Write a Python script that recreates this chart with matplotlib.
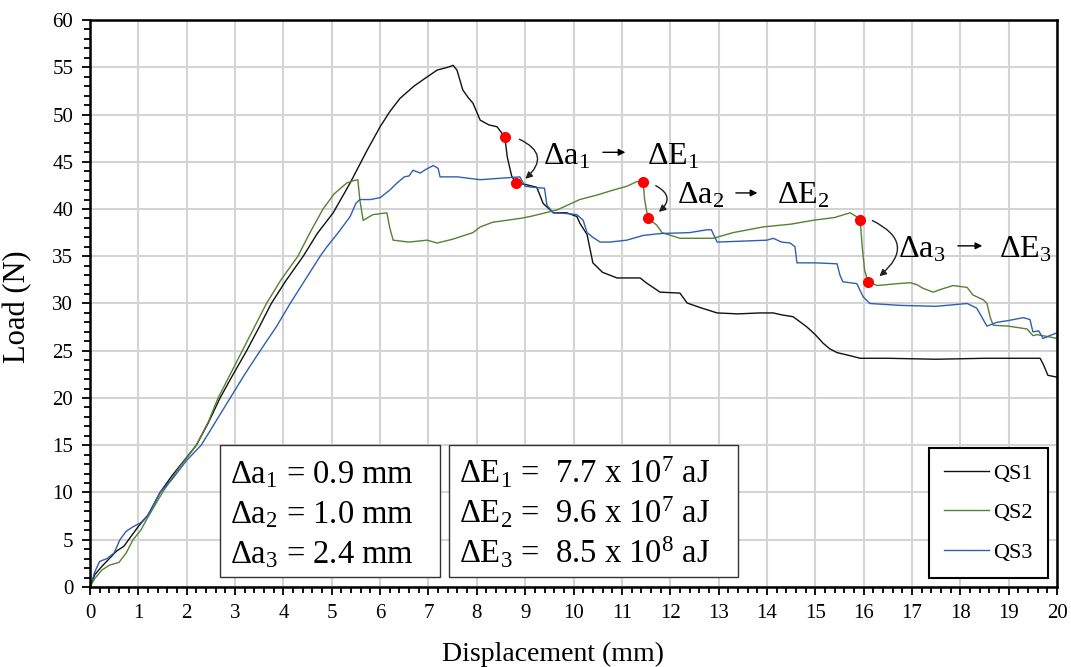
import matplotlib
matplotlib.use("Agg")
import matplotlib.pyplot as plt
from matplotlib.patches import Rectangle
from matplotlib.ticker import MultipleLocator

plt.rcParams['font.family'] = ['Liberation Serif', 'DejaVu Serif']
plt.rcParams['mathtext.fontset'] = 'custom'
plt.rcParams['mathtext.rm'] = 'Liberation Serif'
plt.rcParams['mathtext.default'] = 'regular'

# load-displacement curves
qs1_x = [0, 0.1, 0.25, 0.4, 0.55, 0.7, 0.8, 1.0, 1.2, 1.45, 1.7, 1.95, 2.2, 2.45, 2.69, 2.95,
         3.24, 3.5, 3.75, 4.05, 4.41, 4.7, 5.03, 5.38, 5.73, 6.0, 6.2, 6.41, 6.7, 6.95, 7.18,
         7.4, 7.51, 7.59, 7.71, 7.82, 7.92, 8.07, 8.25, 8.42, 8.58, 8.63, 8.72, 8.81, 9.0,
         9.24, 9.37, 9.58, 9.86, 10.07, 10.13, 10.28, 10.4, 10.6, 10.9, 11.38, 11.5, 11.79,
         12.2, 12.35, 12.6, 12.97, 13.4, 13.86, 14.13, 14.3, 14.54, 14.7, 14.83, 15.0, 15.16,
         15.3, 15.45, 15.7, 15.93, 16.5, 17.5, 18.5, 19.3, 19.65, 19.72, 19.81, 20.0]
qs1_y = [0, 1.3, 2.2, 3.0, 3.8, 4.3, 5.0, 6.4, 7.6, 10.0, 11.8, 13.4, 15.0, 17.4, 20.0, 22.4,
         25.0, 27.5, 30.0, 32.4, 35.0, 37.4, 39.6, 42.75, 46.2, 48.7, 50.3, 51.7, 53.0, 53.9, 54.7,
         55.0, 55.2, 54.7, 52.6, 51.8, 51.2, 49.4, 48.9, 48.7, 47.6, 45.5, 43.5, 42.75, 42.6,
         42.3, 40.6, 39.6, 39.6, 39.2, 38.5, 37.3, 34.3, 33.3, 32.7, 32.7, 32.2, 31.2,
         31.1, 30.05, 29.6, 29.0, 28.9, 29.0, 29.0, 28.8, 28.6, 28.0, 27.5, 26.7, 25.8,
         25.2, 24.8, 24.5, 24.2, 24.2, 24.1, 24.2, 24.2, 24.2, 23.5, 22.4, 22.2]

qs2_x = [0, 0.1, 0.25, 0.4, 0.6, 0.75, 0.89, 1.05, 1.2, 1.5, 1.8, 2.2, 2.45, 2.65, 2.9, 3.15,
         3.4, 3.65, 3.95, 4.3, 4.55, 4.82, 5.05, 5.31, 5.45, 5.54, 5.58, 5.65, 5.85, 6.14, 6.2,
         6.27, 6.6, 6.97, 7.18, 7.5, 7.92, 8.07, 8.33, 8.89, 9.1, 9.66, 10.13, 10.5, 10.82,
         11.1, 11.31, 11.44, 11.47, 11.54, 11.72, 11.83, 12.2, 12.89, 13.3, 13.92, 14.5, 14.95,
         15.4, 15.72, 15.85, 15.93, 15.97, 16.02, 16.09, 16.28, 16.7, 16.96, 17.1, 17.23, 17.44,
         17.6, 17.85, 18.14, 18.26, 18.47, 18.55, 18.62, 18.68, 19.0, 19.38, 19.5, 19.59, 19.8, 20.0]
qs2_y = [0, 0.9, 1.8, 2.3, 2.6, 3.6, 5.0, 6.0, 7.4, 10.0, 12.3, 15.0, 17.5, 20.0, 22.5, 25.0,
         27.5, 30.0, 32.5, 35.0, 37.5, 40.0, 41.6, 42.75, 43.0, 43.1, 41.0, 38.8, 39.4, 39.6, 38.0,
         36.7, 36.5, 36.7, 36.4, 36.8, 37.5, 38.1, 38.6, 39.0, 39.2, 39.9, 41.0, 41.5, 42.0,
         42.4, 42.9, 42.9, 41.0, 39.0, 38.3, 37.5, 36.9, 36.9, 37.5, 38.1, 38.4, 38.8,
         39.1, 39.6, 39.2, 38.8, 36.0, 33.5, 32.3, 31.9, 32.1, 32.2, 32.0, 31.6, 31.2,
         31.5, 31.9, 31.7, 30.9, 30.4, 30.0, 28.5, 27.7, 27.6, 27.3, 26.6, 26.7, 26.5, 26.3]

qs3_x = [0, 0.1, 0.2, 0.35, 0.5, 0.62, 0.75, 0.9, 1.05, 1.2, 1.45, 1.7, 2.0, 2.3, 2.6, 2.9,
         3.2, 3.52, 3.85, 4.14, 4.45, 4.76, 4.9, 5.15, 5.38, 5.5, 5.58, 5.8, 6.0, 6.2, 6.35,
         6.5, 6.6, 6.68, 6.83, 6.95, 7.1, 7.2, 7.24, 7.6, 8.07, 8.62, 8.89, 9.0, 9.16, 9.4,
         9.45, 9.58, 9.9, 10.07, 10.2, 10.28, 10.4, 10.55, 10.75, 11.1, 11.44, 11.79, 12.4,
         12.76, 12.85, 12.97, 13.5, 14.0, 14.13, 14.3, 14.48, 14.58, 14.62, 15.0, 15.45, 15.51,
         15.57, 15.86, 15.99, 16.13, 16.75, 17.5, 18.14, 18.34, 18.45, 18.55, 18.75, 19.0, 19.3,
         19.44, 19.5, 19.62, 19.71, 19.85, 20.0]
qs3_y = [0, 1.6, 2.7, 3.0, 3.6, 5.0, 5.9, 6.4, 6.8, 7.6, 10.0, 11.4, 13.4, 15.0, 17.5, 20.0,
         22.5, 25.0, 27.5, 30.0, 32.5, 35.0, 36.0, 37.6, 39.2, 40.6, 41.0, 41.0, 41.2, 42.0, 42.75,
         43.4, 43.5, 44.1, 43.8, 44.2, 44.6, 44.3, 43.4, 43.4, 43.1, 43.3, 43.4, 42.4, 42.3, 42.2,
         40.4, 39.6, 39.5, 39.4, 38.8, 37.5, 37.0, 36.5, 36.5, 36.7, 37.2, 37.4, 37.5,
         37.8, 37.8, 36.5, 36.6, 36.7, 36.9, 36.5, 36.4, 36.0, 34.3, 34.3, 34.2, 33.0,
         32.3, 32.1, 30.7, 30.0, 29.8, 29.7, 30.0, 29.5, 28.5, 27.6, 28.0, 28.2, 28.5,
         28.3, 27.0, 27.1, 26.3, 26.6, 26.9]

# crack jump points (before / after)
dot_x = [8.58, 8.81, 11.44, 11.54, 15.93, 16.09]
dot_y = [47.6, 42.75, 42.9, 39.0, 38.8, 32.3]

da_text = ["0.9 mm", "1.0 mm", "2.4 mm"]
de_text = ["7.7 x 10$^7$ aJ", "9.6 x 10$^7$ aJ", "8.5 x 10$^8$ aJ"]

fig = plt.figure(figsize=(10.71, 6.67), dpi=100)
ax = fig.add_axes([0.084, 0.12, 0.903, 0.85])

ax.plot(qs1_x, qs1_y, color='#111111', lw=1.0, label='QS1')
ax.plot(qs2_x, qs2_y, color='#548235', lw=1.0, label='QS2')
ax.plot(qs3_x, qs3_y, color='#2f5fb0', lw=1.0, label='QS3')
ax.plot(dot_x, dot_y, 'o', color='red', ms=7, zorder=5)

ax.set_xlim(0, 20)
ax.set_ylim(0, 60)
ax.xaxis.set_major_locator(MultipleLocator(1))
ax.xaxis.set_minor_locator(MultipleLocator(0.2))
ax.yaxis.set_major_locator(MultipleLocator(5))
ax.yaxis.set_minor_locator(MultipleLocator(1))
ax.grid(True, which='major', color='#d4d4d4', lw=1.5)
ax.set_axisbelow(True)
for s in ax.spines.values():
    s.set_linewidth(1.8)
ax.tick_params(which='both', direction='out', width=1.3, labelsize=15)
ax.tick_params(which='major', length=6, pad=6)
ax.tick_params(which='minor', length=4)
ax.set_xlabel('Displacement (mm)', fontsize=20, va='top')
ax.xaxis.set_label_coords(0.479, -0.097)
ax.set_ylabel('Load (N)', fontsize=22)
ax.yaxis.set_label_coords(-0.06, 0.495)

# curved arrows between the dots
arrows = [((8.83, 47.5), (8.96, 43.0)), ((11.65, 42.6), (11.72, 39.5)), ((16.13, 38.9), (16.28, 32.7))]
for (p0, p1) in arrows:
    ax.annotate('', xy=p1, xytext=p0,
                arrowprops=dict(arrowstyle='-|>', color='#222222', lw=1.0,
                                mutation_scale=10, connectionstyle='arc3,rad=-0.8'))

labels = [(9.37, 44.66, 10.55, 11.13, 46.0, 11.52, '1'),
          (12.14, 40.6, 13.3, 13.86, 41.7, 14.21, '2'),
          (16.71, 34.9, 17.89, 18.51, 36.1, 18.8, '3')]
for xa, yb, xs, xe, ya, xe2, n in labels:
    ax.text(xa, yb, r'$\Delta a_%s$' % n, fontsize=23, va='baseline')
    ax.annotate('', xy=(xe, ya), xytext=(xs, ya),
                arrowprops=dict(arrowstyle='-|>', color='black', lw=1.0, mutation_scale=10))
    ax.text(xe2, yb, r'$\Delta E_%s$' % n, fontsize=23, va='baseline')

# value boxes
ax.add_patch(Rectangle((2.69, 1.06), 4.55, 13.97, fill=True, fc='white', ec='#333333', lw=1.0, zorder=4))
ax.add_patch(Rectangle((7.42, 1.06), 5.98, 13.97, fill=True, fc='white', ec='#333333', lw=1.0, zorder=4))
rows_y = [11.0, 6.77, 2.54]
for i in range(3):
    ax.text(2.9, rows_y[i], r'$\Delta a_%d$' % (i + 1) + ' = ' + da_text[i], fontsize=23.5,
            va='baseline', zorder=6)
    ax.text(7.63, rows_y[i], r'$\Delta E_%d$' % (i + 1) + ' =  ' + de_text[i], fontsize=23.5,
            va='baseline', zorder=6)

leg = ax.legend(loc='lower right', fontsize=16, frameon=True,
                fancybox=False, framealpha=1, edgecolor='black', labelspacing=0.85,
                borderpad=0.7, handlelength=2.0, handletextpad=0.2, borderaxespad=0.4)
leg.get_frame().set_linewidth(1.5)

fig.savefig('out.png', dpi=100)
